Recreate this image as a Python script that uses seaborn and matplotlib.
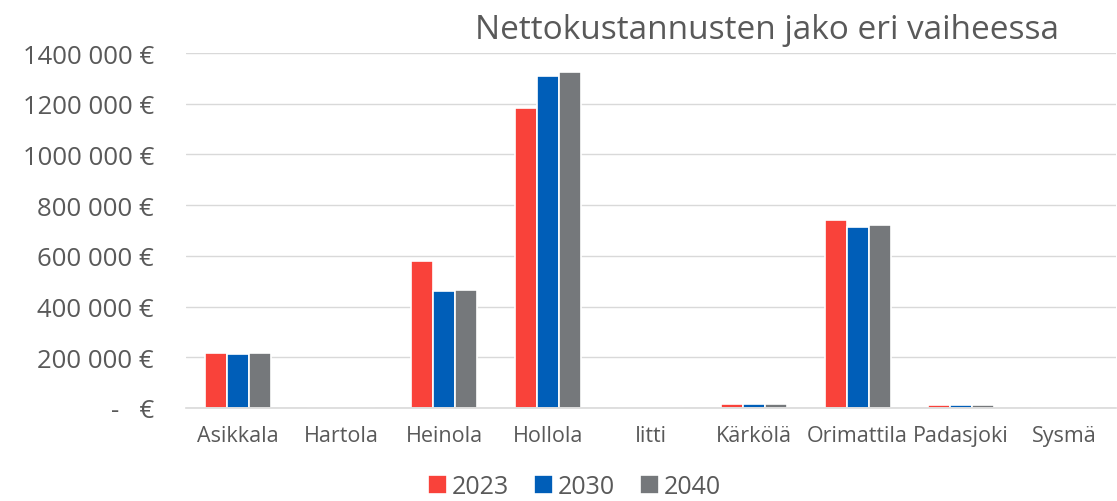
import pandas as pd
import seaborn as sns
import matplotlib.pyplot as plt
from matplotlib.ticker import FuncFormatter

kunnat = ['Asikkala', 'Hartola', 'Heinola', 'Hollola', 'Iitti',
          'Kärkölä', 'Orimattila', 'Padasjoki', 'Sysmä']
vuodet = ['2023', '2030', '2040']
kust_2023 = [217000, 5000, 580000, 1183000, 0, 15000, 741000, 12000, 0]
kust_2030 = [213000, 3000, 461000, 1309000, 0, 14000, 714000, 12000, 0]
kust_2040 = [216000, 3000, 464000, 1325000, 0, 14000, 722000, 12000, 0]
varit = ['#F9423A', '#005EB8', '#75787B']

df = pd.DataFrame({
    'kunta': kunnat * 3,
    'vuosi': [v for v in vuodet for _ in kunnat],
    'kustannus': kust_2023 + kust_2030 + kust_2040,
})

sns.set_style('white')
plt.rcParams['font.family'] = ['Open Sans', 'DejaVu Sans']
txt = '#595959'

fig = plt.figure(figsize=(11.17, 5.02), dpi=100)
ax = fig.add_axes([186/1117, 1 - 409/502, (1116-186)/1117, (409-54)/502])

sns.barplot(data=df, x='kunta', y='kustannus', hue='vuosi', palette=varit,
            width=0.64, edgecolor='white', linewidth=1.2, saturation=1, ax=ax)

ax.set_ylim(0, 1400000)
ax.set_yticks(range(0, 1400001, 200000))

def euro(v, pos):
    if v == 0:
        return '-   €'
    return f'{int(v // 1000)} 000 €'

ax.yaxis.set_major_formatter(FuncFormatter(euro))
ax.grid(axis='y', color='#D9D9D9', linewidth=1)
ax.set_axisbelow(True)
for s in ['top', 'right', 'left']:
    ax.spines[s].set_visible(False)
ax.spines['bottom'].set_color('#D9D9D9')
ax.spines['bottom'].set_linewidth(1.2)
ax.tick_params(axis='y', labelsize=18.5, colors=txt, length=0, pad=23)
ax.tick_params(axis='x', labelsize=15.5, colors=txt, length=0, pad=12)
ax.set_xlabel('')
ax.set_ylabel('')

leg = ax.legend(loc='center', bbox_to_anchor=(0.418, -0.222), ncol=3, frameon=False,
                fontsize=18, handlelength=0.75, handleheight=0.75, handletextpad=0.2,
                columnspacing=1.0, labelcolor=txt, borderpad=0.2)

fig.text(0.687, 0.94, 'Nettokustannusten jako eri vaiheessa', ha='center', va='center',
         fontsize=24, color=txt)

fig.savefig('out.png', dpi=100)
